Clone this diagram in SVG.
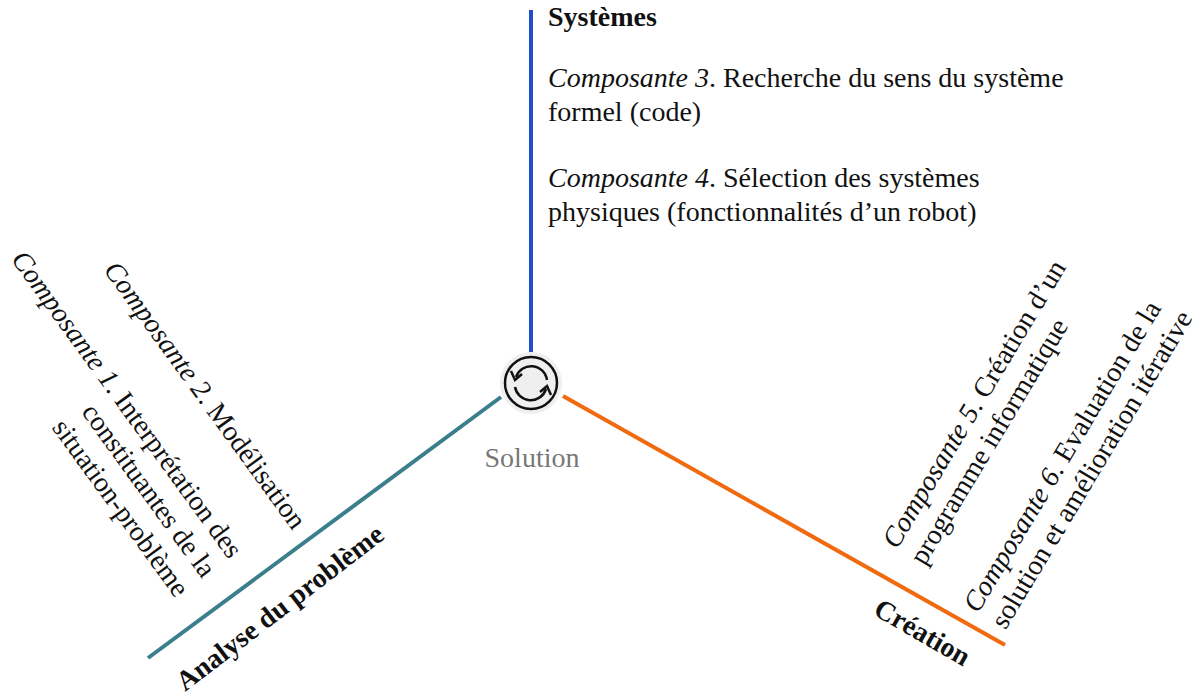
<svg xmlns="http://www.w3.org/2000/svg" width="1200" height="695" viewBox="0 0 1200 695">
<style>
text{font-family:"Liberation Serif","Times New Roman",serif;font-size:28px;fill:#111}
.b{font-weight:bold}
.i{font-style:italic}
.ic{fill:none;stroke:#111;stroke-width:2.5}
</style>
<rect width="1200" height="695" fill="#fff"/>
<g id="connectors" stroke-width="4" fill="none">
<line x1="531" y1="10" x2="531" y2="352" stroke="#1f4fc8"/>
<line x1="501" y1="397" x2="148" y2="658" stroke="#3b7f8c"/>
<line x1="563" y1="396" x2="1005" y2="645" stroke="#f06a10"/>
</g>
<g id="solution">
<circle cx="531" cy="383" r="31" fill="#efefef"/>
<circle cx="531" cy="383" r="26" class="ic"/>
<path d="M547 380 A16 16 0 0 0 516 377" class="ic"/>
<path d="M511 371 L515 380 L522 374" class="ic"/>
<path d="M515 387 A16 16 0 0 0 546 389" class="ic"/>
<path d="M551 395 L547 386 L540 392" class="ic"/>
<text x="532" y="467" text-anchor="middle" style="fill:#777">Solution</text>
</g>
<g id="systemes">
<text x="548" y="26" class="b">Systèmes</text>
<text x="548" y="87"><tspan class="i">Composante 3</tspan>. Recherche du sens du système</text>
<text x="548" y="121">formel (code)</text>
<text x="548" y="187"><tspan class="i">Composante 4</tspan>. Sélection des systèmes</text>
<text x="548" y="221">physiques (fonctionnalités d’un robot)</text>
</g>
<g id="analyse">
<text transform="translate(185,692) rotate(-37.5)" class="b">Analyse du problème</text>
<g transform="translate(229,560) rotate(54)" text-anchor="end">
<text x="0" y="0"><tspan class="i">Composante 1</tspan>. Interprétation des</text>
<text x="0" y="33">constituantes de la</text>
<text x="0" y="66">situation-problème</text>
</g>
<text transform="translate(103,270) rotate(54)"><tspan class="i">Composante 2</tspan>. Modélisation</text>
</g>
<g id="creation">
<text transform="translate(872,614) rotate(30)" class="b">Création</text>
<g transform="translate(897,550) rotate(-59)">
<text x="0" y="0"><tspan class="i">Composante 5</tspan>. Création d’un</text>
<text x="0" y="32">programme informatique</text>
</g>
<g transform="translate(978,614) rotate(-59)">
<text x="0" y="0"><tspan class="i">Composante 6</tspan>. Evaluation de la</text>
<text x="0" y="32">solution et amélioration itérative</text>
</g>
</g>
</svg>
